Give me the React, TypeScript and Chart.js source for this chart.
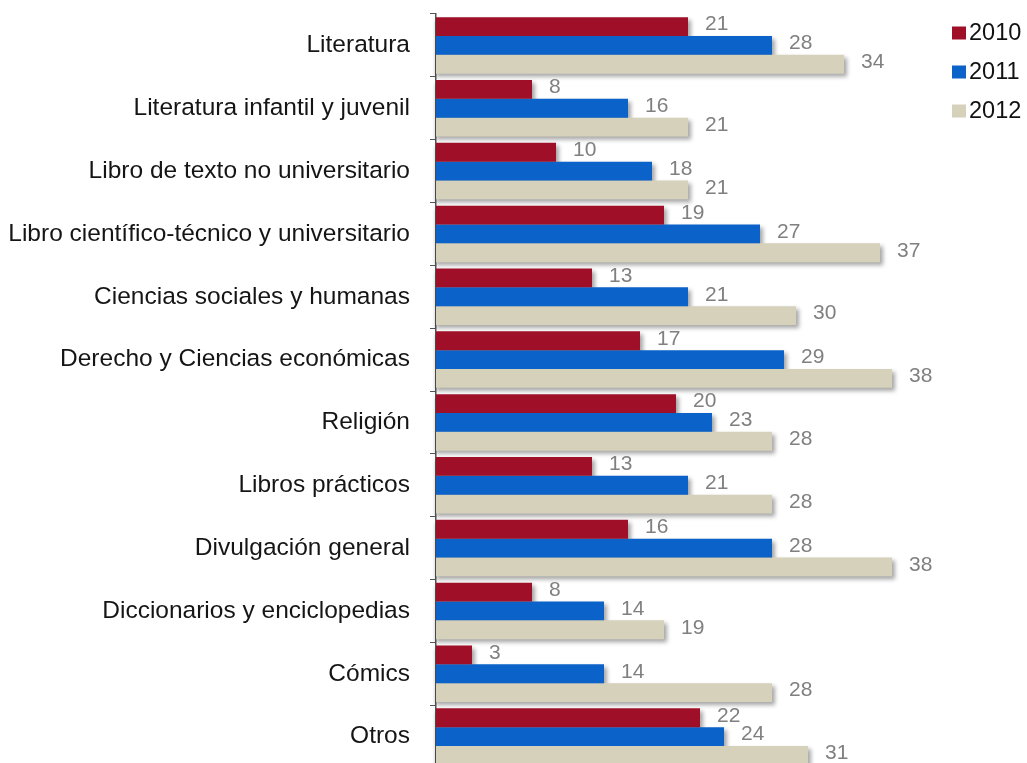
import React, { useEffect, useRef } from "react";
import { Chart, registerables } from "chart.js";

Chart.register(...registerables);

const categories = [
  "Literatura",
  "Literatura infantil y juvenil",
  "Libro de texto no universitario",
  "Libro científico-técnico y universitario",
  "Ciencias sociales y humanas",
  "Derecho y Ciencias económicas",
  "Religión",
  "Libros prácticos",
  "Divulgación general",
  "Diccionarios y enciclopedias",
  "Cómics",
  "Otros",
];
const series2010 = [21, 8, 10, 19, 13, 17, 20, 13, 16, 8, 3, 22];
const series2011 = [28, 16, 18, 27, 21, 29, 23, 21, 28, 14, 14, 24];
const series2012 = [34, 21, 21, 37, 30, 38, 28, 28, 38, 19, 28, 31];
const seriesNames = ["2010", "2011", "2012"];
const seriesColors = ["#9f1028", "#0b62c8", "#d5d1bb"];

const FONT = "'Liberation Sans', Arial, sans-serif";

const shadowAndLabels = {
  id: "shadowAndLabels",
  beforeDatasetsDraw(chart: any) {
    const ctx = chart.ctx;
    ctx.save();
    ctx.filter = "blur(2px)";
    ctx.fillStyle = "rgba(0,0,0,0.35)";
    chart.data.datasets.forEach((_: any, di: number) => {
      const meta = chart.getDatasetMeta(di);
      meta.data.forEach((bar: any) => {
        const p = bar.getProps(["x", "y", "base", "height"], true);
        ctx.fillRect(p.base, p.y - p.height / 2 + 3, p.x - p.base + 3, p.height);
      });
    });
    ctx.restore();
  },
  afterDatasetsDraw(chart: any) {
    const ctx = chart.ctx;
    ctx.save();
    ctx.font = `21px ${FONT}`;
    ctx.fillStyle = "#808080";
    ctx.textAlign = "left";
    ctx.textBaseline = "middle";
    chart.data.datasets.forEach((ds: any, di: number) => {
      const meta = chart.getDatasetMeta(di);
      meta.data.forEach((bar: any, i: number) => {
        const p = bar.getProps(["x", "y"], true);
        ctx.fillText(String(ds.data[i]), p.x + 17, p.y - 2);
      });
    });
    ctx.restore();
  },
  afterDraw(chart: any) {
    const ctx = chart.ctx;
    ctx.save();
    ctx.font = `23.5px ${FONT}`;
    ctx.textAlign = "left";
    ctx.textBaseline = "middle";
    seriesNames.forEach((name, i) => {
      const cy = 33 + i * 39;
      ctx.fillStyle = seriesColors[i];
      ctx.fillRect(952, cy - 6.5, 14, 13);
      ctx.fillStyle = "#111111";
      ctx.fillText(name, 969, cy + 1);
    });
    ctx.restore();
  },
};

export default function App() {
  const ref = useRef<HTMLCanvasElement>(null);
  useEffect(() => {
    if (!ref.current) return;
    const chart = new Chart(ref.current, {
      type: "bar",
      data: {
        labels: categories,
        datasets: [series2010, series2011, series2012].map((d, i) => ({
          label: seriesNames[i],
          data: d,
          backgroundColor: seriesColors[i],
          borderWidth: 0,
          barPercentage: 1.0,
          categoryPercentage: 0.9,
        })),
      },
      options: {
        indexAxis: "y",
        responsive: false,
        animation: false,
        devicePixelRatio: 1,
        layout: { padding: { top: 14, bottom: 2, left: 0, right: 1027 - 436 - 12 * 45 } },
        plugins: { legend: { display: false }, tooltip: { enabled: false } },
        scales: {
          x: { display: false, min: 0, max: 45 },
          y: {
            offset: true,
            afterFit: (scale: any) => {
              scale.width = 436;
              scale.paddingTop = 0;
              scale.paddingBottom = 0;
            },
            grid: {
              display: true,
              drawOnChartArea: false,
              drawTicks: true,
              tickLength: 6,
              color: "#555555",
              offset: true,
            },
            border: { display: true, color: "#555555", width: 1.5 },
            ticks: {
              padding: 20,
              color: "#151515",
              font: { size: 24.5, family: FONT },
            },
          },
        },
      },
      plugins: [shadowAndLabels],
    } as any);
    return () => chart.destroy();
  }, []);
  return (
    <div
      style={{
        position: "fixed",
        top: 0,
        left: 0,
        width: 1027,
        height: 763,
        overflow: "hidden",
        background: "#ffffff",
      }}
    >
      <canvas ref={ref} width={1027} height={770} style={{ display: "block" }} />
    </div>
  );
}
